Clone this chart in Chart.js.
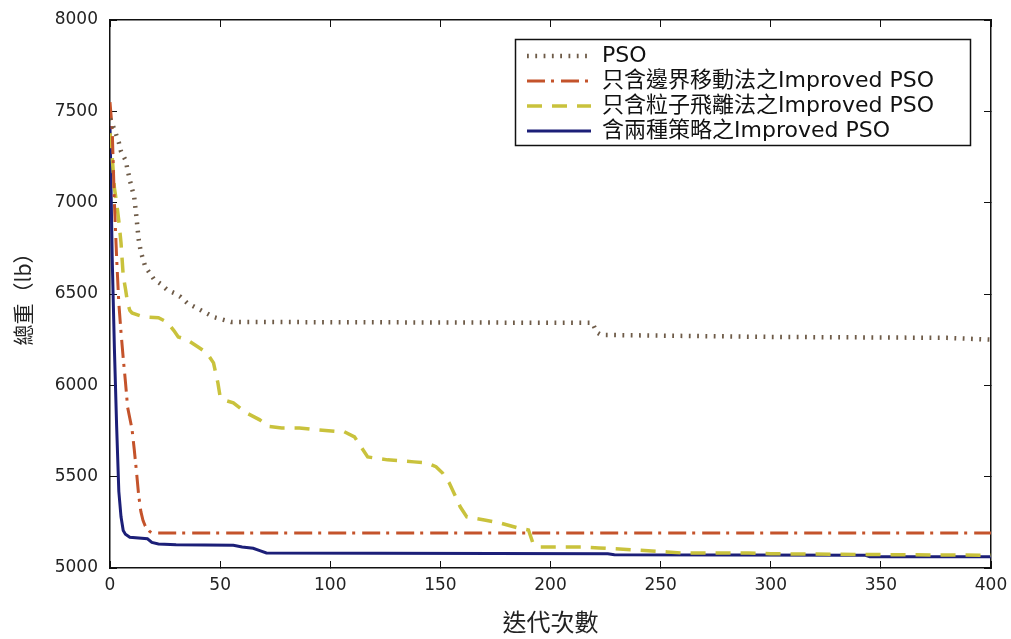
<!DOCTYPE html>
<html>
<head>
<meta charset="utf-8">
<script src="https://cdn.jsdelivr.net/npm/chart.js"></script>
<style>
  html, body { margin: 0; padding: 0; background: #ffffff; }
  #wrap { width: 1011px; height: 639px; }
</style>
</head>
<body>
<div id="wrap"><canvas id="c" width="1011" height="639"></canvas></div>
<script>
// Convergence of total weight over the iterations for four PSO variants.
const seriesLabels = [
  'PSO',
  '只含邊界移動法之Improved PSO',
  '只含粒子飛離法之Improved PSO',
  '含兩種策略之Improved PSO'
];

// Plain PSO
const psoIter   = [0, 2, 4, 5, 7, 8, 9, 11, 12, 13, 14, 16, 18, 20, 23, 26, 29, 32, 35, 41, 47, 55, 219, 221, 223, 300, 380, 400];
const psoWeight = [7460, 7400, 7330, 7280, 7234, 7180, 7124, 7030, 6922, 6800, 6730, 6650, 6615, 6580, 6555, 6522, 6506, 6484, 6451, 6413, 6374, 6347, 6342, 6290, 6276, 6265, 6260, 6250];

// Boundary-moving strategy only
const boundIter   = [0, 1, 2, 3, 4, 5, 6, 7, 8, 9, 10, 11, 12, 13, 14, 15, 16, 18, 19, 400];
const boundWeight = [7550, 7400, 7000, 6700, 6450, 6290, 6150, 6020, 5880, 5820, 5760, 5650, 5530, 5400, 5310, 5260, 5230, 5200, 5192, 5192];

// Particle fly-away strategy only
const flyIter   = [0, 1, 2, 3, 4, 5, 6, 7, 8, 9, 10, 14, 17, 22, 26, 29, 31, 35, 40, 44, 47, 49, 50, 53, 56, 62, 68, 72, 78, 86, 94, 102, 106, 111, 114, 117, 126, 138, 144, 148, 151, 154, 157, 159, 162, 170, 177, 185, 190, 192, 195, 215, 222, 238, 253, 260, 290, 300, 340, 400];
const flyWeight = [7380, 7250, 7080, 7000, 6900, 6780, 6600, 6530, 6450, 6410, 6396, 6380, 6374, 6370, 6345, 6300, 6265, 6250, 6210, 6177, 6123, 6013, 5937, 5915, 5904, 5849, 5811, 5775, 5767, 5767, 5756, 5748, 5748, 5718, 5663, 5608, 5592, 5581, 5575, 5555, 5520, 5466, 5389, 5335, 5280, 5263, 5247, 5220, 5208, 5137, 5115, 5115, 5110, 5099, 5088, 5082, 5082, 5078, 5074, 5070];

// Both strategies combined
const bothIter   = [0, 1, 2, 3, 4, 5, 6, 7, 9, 17, 19, 22, 30, 56, 60, 65, 68, 71, 226, 229, 343, 345, 400];
const bothWeight = [7420, 6700, 6200, 5780, 5420, 5280, 5205, 5185, 5168, 5160, 5140, 5132, 5127, 5124, 5115, 5108, 5095, 5082, 5078, 5072, 5070, 5062, 5062];

const xMin = 0, xMax = 400, xStep = 50;
const yMin = 5000, yMax = 8000, yStep = 500;

const xTitle = '迭代次數';
const yTitle = '總重（lb）';

const toPoints = (xs, ys) => xs.map((x, i) => ({ x: x, y: ys[i] }));

const tickFont = { family: "'DejaVu Sans', 'Liberation Sans', sans-serif", size: 17 };
const cjkFamily = "'DejaVu Sans', 'Noto Sans CJK TC', sans-serif";

// Places the legend in the upper-right corner of the plot and frames it.
const legendFrame = {
  id: 'legendFrame',
  afterLayout(chart) {
    const lg = chart.legend, ca = chart.chartArea;
    const box = { left: ca.right - 476, top: ca.top + 19, right: ca.right - 21, bottom: ca.top + 125 };
    chart.$legendBox = box;
    const pad = lg.options.labels.padding;
    const fs = lg.options.labels.font.size;
    lg.left = box.left + 12 - pad;
    lg.top = box.top + 17 - fs / 2 - pad;
    lg.right = box.right;
    lg.bottom = box.bottom + 20;
    lg.width = lg.right - lg.left;
    lg.height = lg.bottom - lg.top;
  },
  afterDraw(chart) {
    const b = chart.$legendBox;
    if (!b) return;
    const ctx = chart.ctx;
    ctx.save();
    ctx.strokeStyle = '#111';
    ctx.lineWidth = 1.5;
    ctx.setLineDash([]);
    ctx.strokeRect(b.left + 0.5, b.top + 0.5, b.right - b.left, b.bottom - b.top);
    ctx.restore();
  }
};

// Scale sizes are pinned so the plot box sits at a fixed place on the canvas.
const pin = (w, h) => (s) => {
  if (w !== null) s.width = w;
  if (h !== null) s.height = h;
  s.paddingLeft = 0; s.paddingRight = 0; s.paddingTop = 0; s.paddingBottom = 0;
};

const frameAxis = (position, extra) => Object.assign({
  type: 'linear',
  position: position,
  grid: { drawOnChartArea: false, drawTicks: true, tickLength: -7, color: '#111', tickColor: '#111', lineWidth: 1 },
  border: { display: true, color: '#111', width: 1.5 }
}, extra);

const plainNumber = (v) => String(v);

new Chart(document.getElementById('c'), {
  type: 'line',
  data: {
    datasets: [
      {
        label: seriesLabels[0],
        data: toPoints(psoIter, psoWeight),
        borderColor: '#6e5b48',
        backgroundColor: '#6e5b48',
        borderWidth: 4.5,
        borderDash: [1.8, 6.5],
        pointRadius: 0, tension: 0, fill: false
      },
      {
        label: seriesLabels[1],
        data: toPoints(boundIter, boundWeight),
        borderColor: '#c4532b',
        backgroundColor: '#c4532b',
        borderWidth: 3,
        borderDash: [18, 6, 3, 7],
        pointRadius: 0, tension: 0, fill: false
      },
      {
        label: seriesLabels[2],
        data: toPoints(flyIter, flyWeight),
        borderColor: '#c9c23c',
        backgroundColor: '#c9c23c',
        borderWidth: 3.5,
        borderDash: [15, 10],
        pointRadius: 0, tension: 0, fill: false
      },
      {
        label: seriesLabels[3],
        data: toPoints(bothIter, bothWeight),
        borderColor: '#1c1f78',
        backgroundColor: '#1c1f78',
        borderWidth: 3,
        borderDash: [],
        pointRadius: 0, tension: 0, fill: false
      }
    ]
  },
  options: {
    responsive: false,
    animation: false,
    devicePixelRatio: 1,
    layout: { padding: { left: 0, right: 20, top: 20, bottom: 0 } },
    plugins: {
      tooltip: { enabled: false },
      legend: {
        position: 'chartArea',
        align: 'start',
        labels: {
          usePointStyle: true,
          pointStyle: 'line',
          pointStyleWidth: 64,
          padding: 3,
          color: '#111',
          font: { family: cjkFamily, size: 22 },
          generateLabels: (chart) => chart.data.datasets.map((ds, i) => ({
            text: ds.label,
            strokeStyle: ds.borderColor,
            fillStyle: ds.borderColor,
            lineWidth: ds.borderWidth,
            lineDash: ds.borderDash,
            lineCap: 'butt',
            pointStyle: 'line',
            fontColor: '#111',
            hidden: false,
            datasetIndex: i
          }))
        }
      }
    },
    scales: {
      x: frameAxis('bottom', {
        min: xMin, max: xMax,
        ticks: { stepSize: xStep, color: '#222', font: tickFont, padding: 14, maxRotation: 0, callback: plainNumber },
        title: { display: true, text: xTitle, color: '#222',
                 font: { family: "'Noto Sans CJK TC', sans-serif", size: 24 },
                 padding: { top: 0, bottom: 3 } },
        afterFit: pin(null, 71)
      }),
      y: frameAxis('left', {
        min: yMin, max: yMax,
        ticks: { stepSize: yStep, color: '#222', font: tickFont, padding: 19, callback: plainNumber },
        title: { display: true, text: yTitle, color: '#222',
                 font: { family: "'Noto Sans CJK TC', sans-serif", size: 21 },
                 padding: { top: 10, bottom: 0 } },
        afterFit: pin(110, null)
      }),
      xTop: frameAxis('top', {
        min: xMin, max: xMax,
        ticks: { stepSize: xStep, display: false },
        afterFit: pin(null, 0)
      }),
      yRight: frameAxis('right', {
        min: yMin, max: yMax,
        ticks: { stepSize: yStep, display: false },
        afterFit: pin(0, null)
      })
    }
  },
  plugins: [legendFrame]
});
</script>
</body>
</html>
